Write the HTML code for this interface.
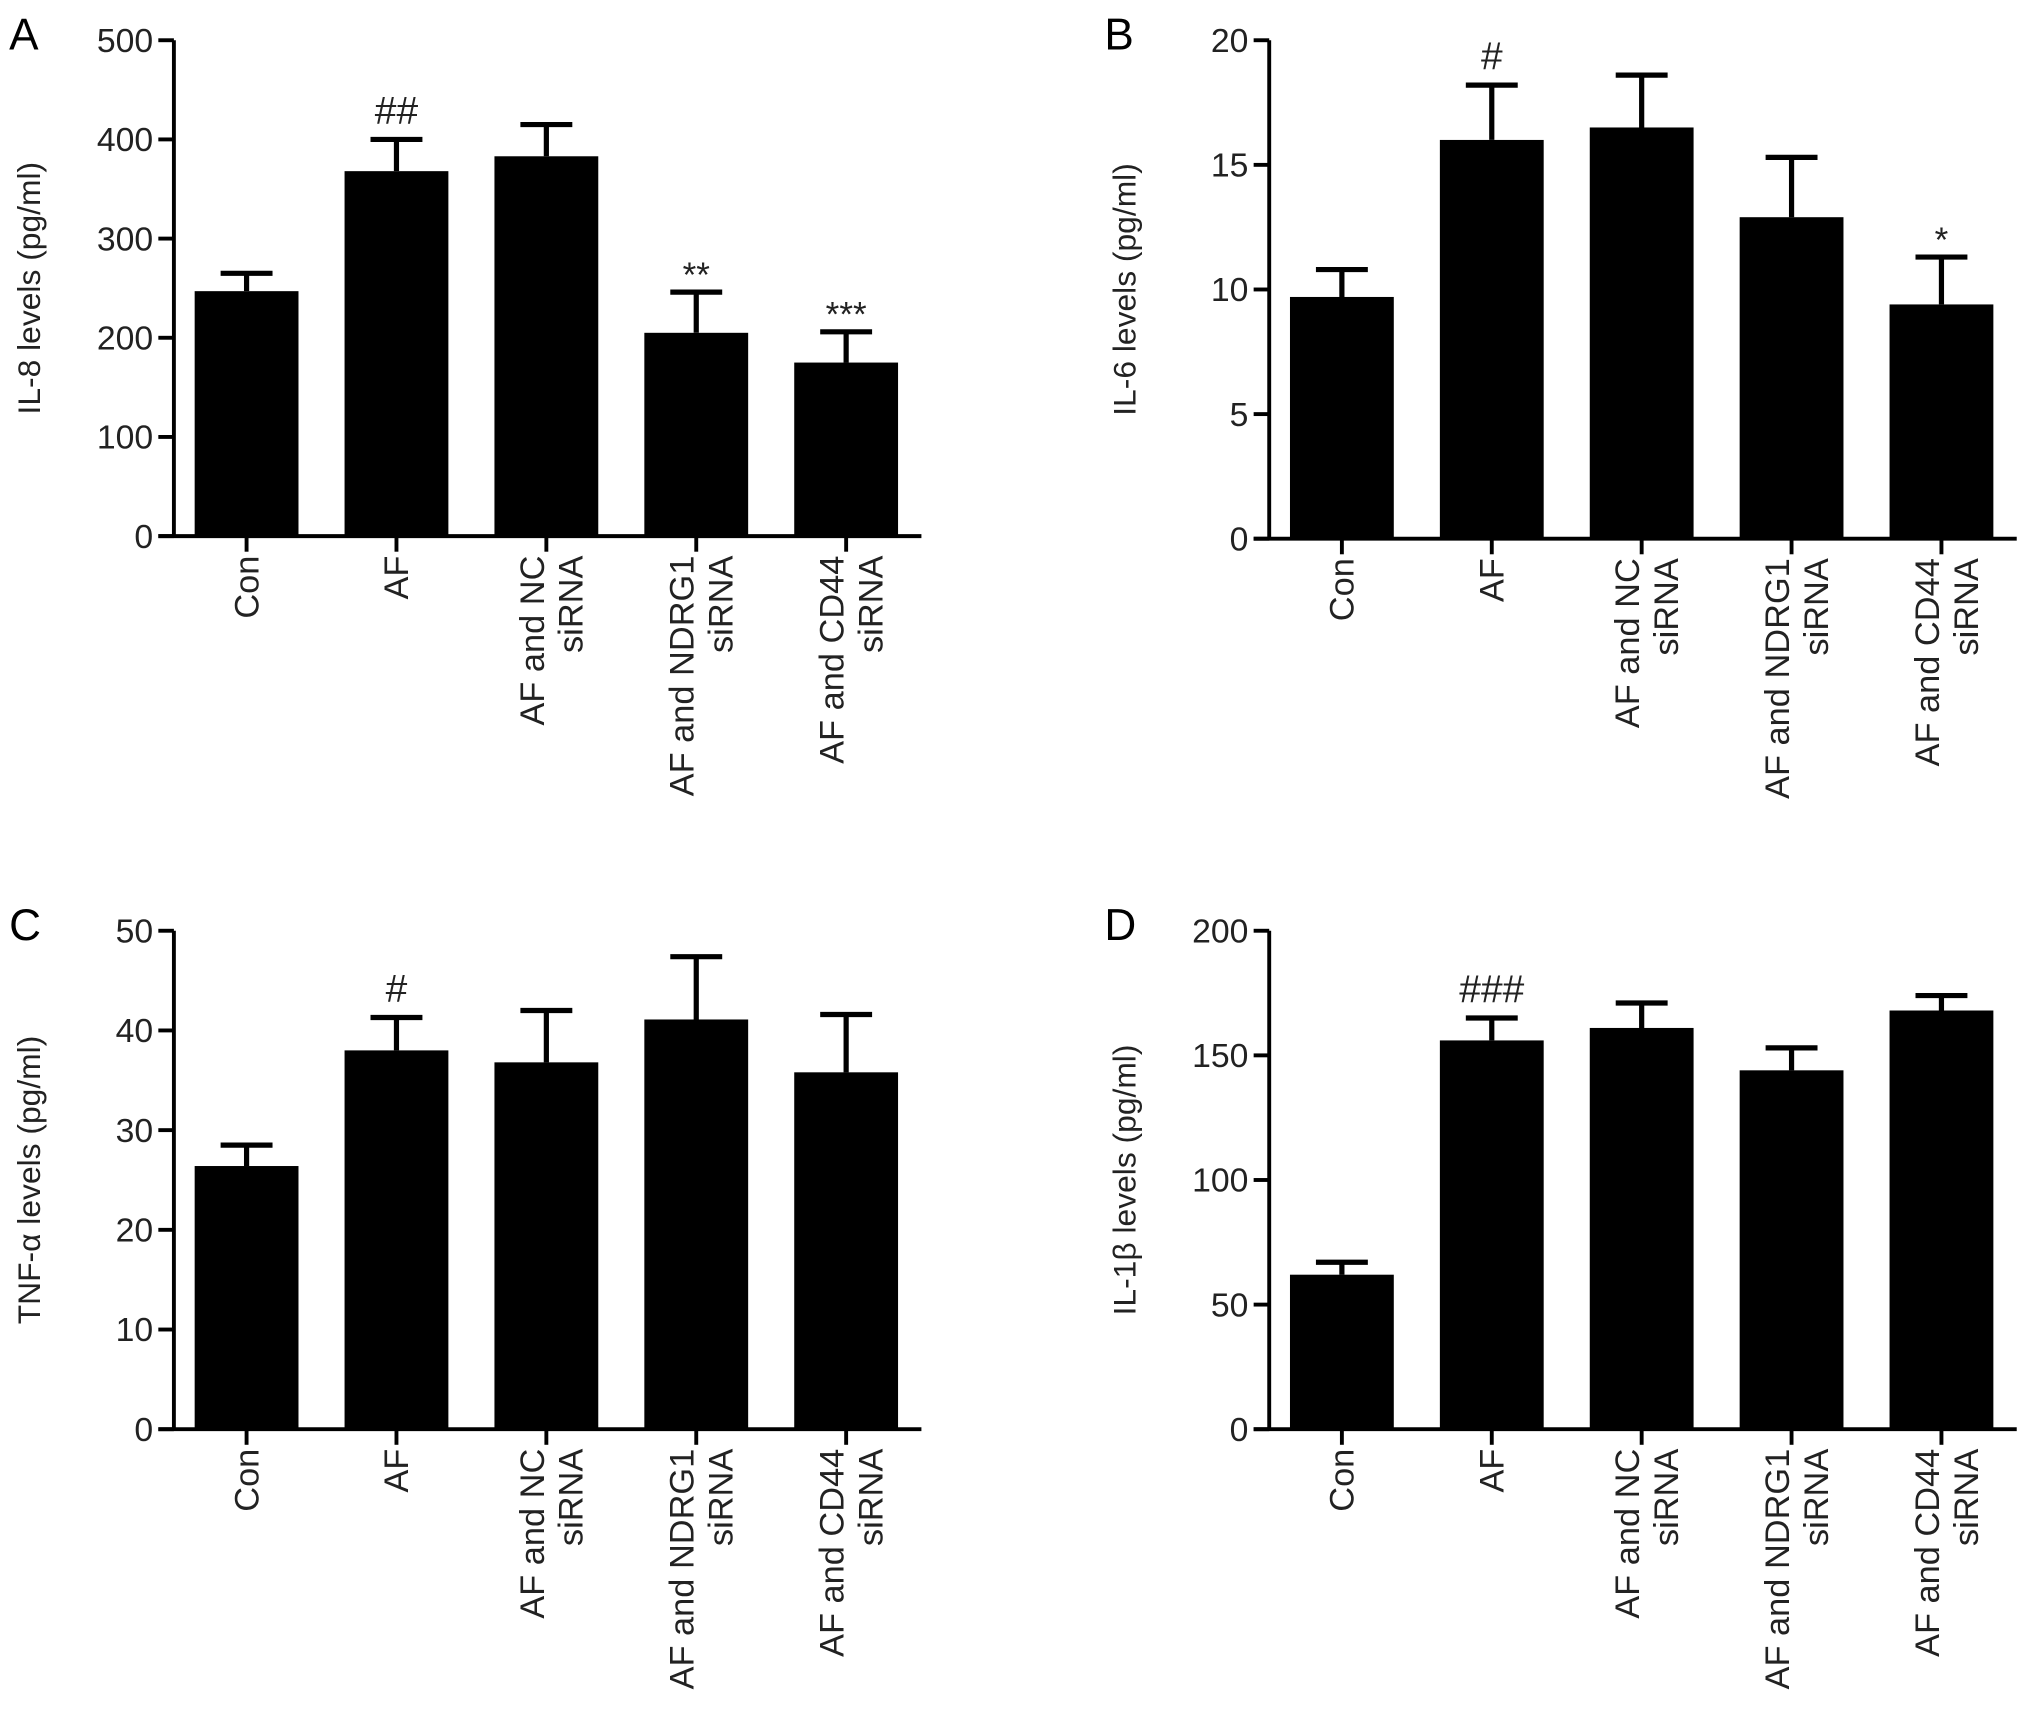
<!DOCTYPE html>
<html><head><meta charset="utf-8"><style>
html,body{margin:0;padding:0;background:#fff;}
svg{display:block;font-family:"Liberation Sans",Arial,sans-serif;}
</style></head><body>
<svg id="fig" width="2031" height="1720" viewBox="0 0 1565 1325" preserveAspectRatio="none" xmlns="http://www.w3.org/2000/svg"></svg>
<script>
const categories = [["Con"],["AF"],["AF and NC","siRNA"],["AF and NDRG1","siRNA"],["AF and CD44","siRNA"]];
const il8Values = [247,368,383,205,175];
const il8Errors = [265,400,415,246,206];
const il8Marks = ["","##","","**","***"];
const il8Ticks = [0,100,200,300,400,500];
const il6Values = [9.7,16.0,16.5,12.9,9.4];
const il6Errors = [10.8,18.2,18.6,15.3,11.3];
const il6Marks = ["","#","","","*"];
const il6Ticks = [0,5,10,15,20];
const tnfValues = [26.4,38.0,36.8,41.1,35.8];
const tnfErrors = [28.5,41.3,42.0,47.4,41.6];
const tnfMarks = ["","#","","",""];
const tnfTicks = [0,10,20,30,40,50];
const il1bValues = [62,156,161,144,168];
const il1bErrors = [67,165,171,153,174];
const il1bMarks = ["","###","","",""];
const il1bTicks = [0,50,100,150,200];

const svg = document.getElementById('fig');
const NS = 'http://www.w3.org/2000/svg';
function mk(tag, attrs, parent){
  const e = document.createElementNS(NS, tag);
  for (const k in attrs) e.setAttribute(k, attrs[k]);
  parent.appendChild(e);
  return e;
}
function panel(id, letter, title, ox, top, bottom, ticks, values, errors, marks){
  const g = mk('g', {}, svg);
  
  
  const ymax = ticks[ticks.length-1];
  const y = v => bottom - (bottom - top) * v / ymax;
  const xc = i => ox + 56 + i * 115.5;
  const lt = mk('text', {x: ox - 127, y: top + 7, 'font-size': 34}, g);
  lt.textContent = letter;
  
  
  const ya = mk('line', {x1: ox, y1: top, x2: ox, y2: bottom, stroke: '#000', 'stroke-width': 3}, g);
  
  
  const xa = mk('line', {x1: ox - 12, y1: bottom, x2: ox + 576, y2: bottom, stroke: '#000', 'stroke-width': 3}, g);
  
  
  ticks.forEach(t => {
    mk('line', {x1: ox - 12, y1: y(t), x2: ox, y2: y(t), stroke: '#000', 'stroke-width': 3}, g);
    const tl = mk('text', {x: ox - 16, y: y(t) + 9, 'font-size': 26, 'text-anchor': 'end', fill: '#222'}, g);
    tl.textContent = t;
    
    
  });
  const yt = mk('text', {transform: `translate(${ox - 103},${(top + bottom) / 2}) rotate(-90)`, 'font-size': 24.5, 'text-anchor': 'middle', fill: '#222'}, g);
  yt.textContent = title;
  
  
  values.forEach((v, i) => {
    const cx = xc(i);
    const b = mk('rect', {x: cx - 40, y: y(v), width: 80, height: bottom - y(v), fill: '#000'}, g);
    
    
    const eb = mk('path', {d: `M${cx},${y(v)}V${y(errors[i])}M${cx - 20},${y(errors[i])}H${cx + 20}`, stroke: '#000', 'stroke-width': 4, fill: 'none'}, g);
    
    
    mk('line', {x1: cx, y1: bottom, x2: cx, y2: bottom + 12, stroke: '#000', 'stroke-width': 3}, g);
    if (marks[i]) {
      const isHash = marks[i][0] === '#';
      const m = mk('text', {x: cx, y: y(errors[i]) - (isHash ? 12 : 4), 'font-size': isHash ? 30 : 27, 'text-anchor': 'middle', fill: '#222'}, g);
      m.textContent = marks[i];
      
      
    }
    const lines = categories[i];
    lines.forEach((ln, j) => {
      const bx = lines.length === 1 ? cx + 9 : cx - 2 + j * 30;
      const ct = mk('text', {transform: `translate(${bx},${bottom + 15}) rotate(-90)`, 'font-size': 26.5, 'text-anchor': 'end', fill: '#222'}, g);
      ct.textContent = ln;
      
      
    });
  });
}
panel('a', 'A', 'IL-8 levels (pg/ml)', 134, 31, 413, il8Ticks, il8Values, il8Errors, il8Marks);
panel('b', 'B', 'IL-6 levels (pg/ml)', 978, 31, 415, il6Ticks, il6Values, il6Errors, il6Marks);
panel('c', 'C', 'TNF-\u03b1 levels (pg/ml)', 134, 717, 1101, tnfTicks, tnfValues, tnfErrors, tnfMarks);
panel('d', 'D', 'IL-1\u03b2 levels (pg/ml)', 978, 717, 1101, il1bTicks, il1bValues, il1bErrors, il1bMarks);
</script>
</body></html>
